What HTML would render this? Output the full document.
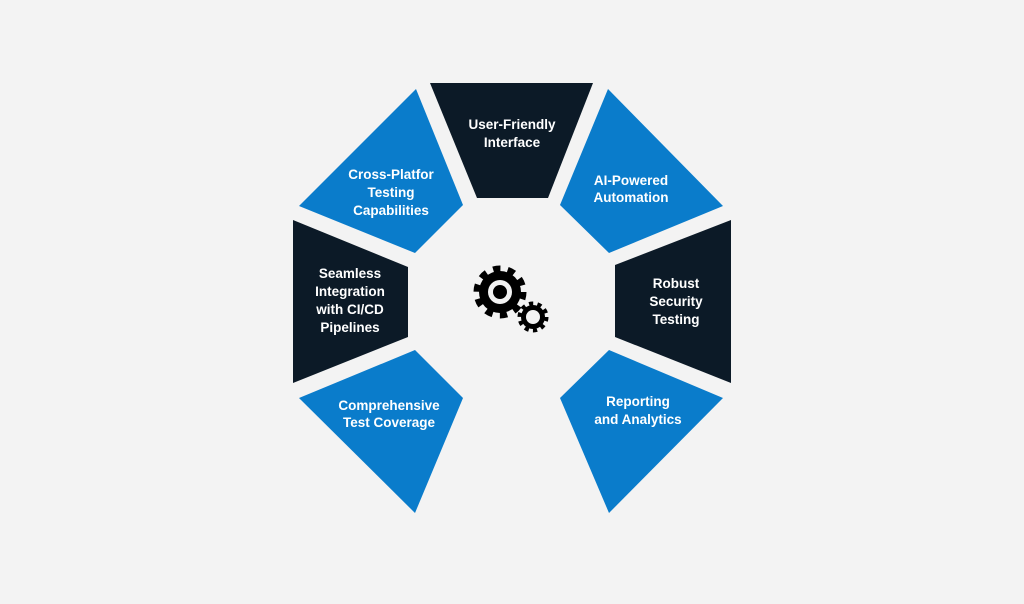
<!DOCTYPE html>
<html><head><meta charset="utf-8"><style>
html,body{margin:0;padding:0;background:#f3f3f3;}
svg{display:block}
text{font-family:"Liberation Sans",sans-serif;font-size:13.5px;font-weight:bold;fill:#fff;text-anchor:middle}
</style></head><body>
<svg width="1024" height="604" viewBox="0 0 1024 604">
<rect width="1024" height="604" fill="#f3f3f3"/>
<polygon points="430,83 593,83 548,198 477,198" fill="#0c1a27"/>
<polygon points="416,89 463,205 415,253 299,206" fill="#0a7ccb"/>
<polygon points="608,89 723,206 609,253 560,205" fill="#0a7ccb"/>
<polygon points="293,220 408,267 408,337 293,383" fill="#0c1a27"/>
<polygon points="731,220 615,265 615,337 731,383" fill="#0c1a27"/>
<polygon points="299,398 415,350 463,398 415,513" fill="#0a7ccb"/>
<polygon points="560,398 609,350 723,398 609,513" fill="#0a7ccb"/>
<!-- gears -->
<circle cx="500" cy="292" r="21" fill="#000"/>
<circle cx="500" cy="292" r="23.5" fill="none" stroke="#000" stroke-width="6" stroke-dasharray="7.4 7.4"/>
<circle cx="500" cy="292" r="12" fill="#f3f3f3"/>
<circle cx="500" cy="292" r="7" fill="#000"/>
<circle cx="533" cy="317" r="12" fill="#000"/>
<circle cx="533" cy="317" r="13.5" fill="none" stroke="#000" stroke-width="4" stroke-dasharray="4.24 4.24"/>
<circle cx="533" cy="317" r="7" fill="#f3f3f3"/>
<text x="512" y="129">User-Friendly</text>
<text x="512" y="147">Interface</text>
<text x="391" y="179">Cross-Platfor</text>
<text x="391" y="197">Testing</text>
<text x="391" y="215">Capabilities</text>
<text x="631" y="185">AI-Powered</text>
<text x="631" y="202">Automation</text>
<text x="350" y="278">Seamless</text>
<text x="350" y="296">Integration</text>
<text x="350" y="314">with CI/CD</text>
<text x="350" y="332">Pipelines</text>
<text x="676" y="288">Robust</text>
<text x="676" y="306">Security</text>
<text x="676" y="324">Testing</text>
<text x="389" y="410">Comprehensive</text>
<text x="389" y="427">Test Coverage</text>
<text x="638" y="406">Reporting</text>
<text x="638" y="424">and Analytics</text>
</svg>
</body></html>
